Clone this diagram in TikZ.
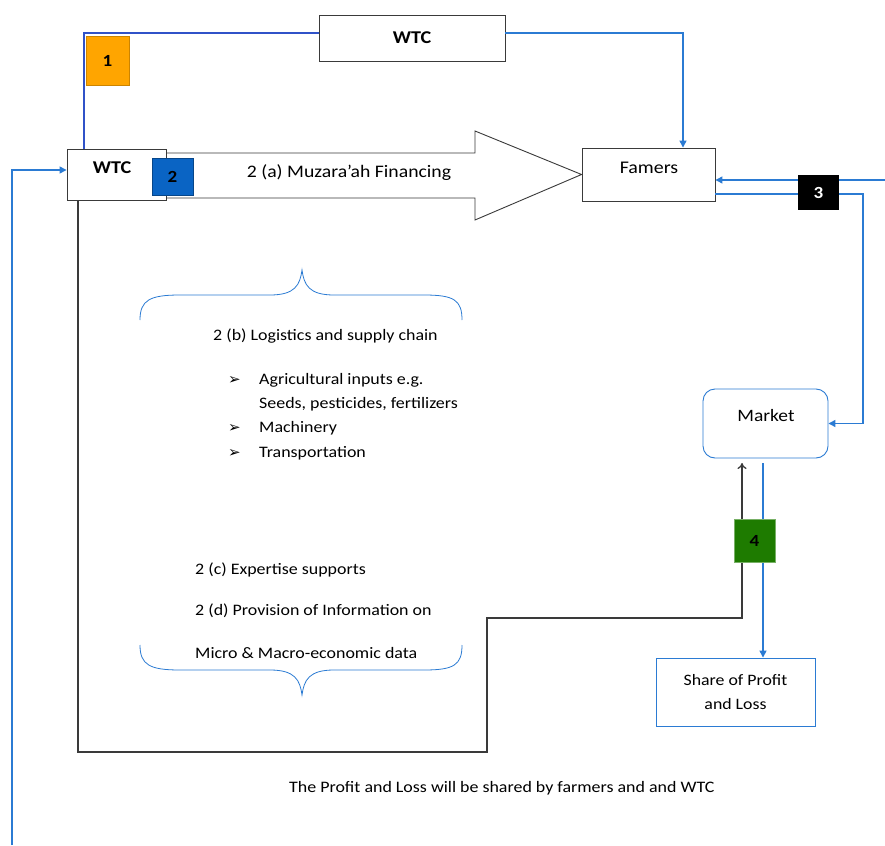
\documentclass[tikz,border=0pt]{standalone}
\usepackage{fontspec}
\setmainfont{Carlito}[FakeStretch=1.12]
\newfontfamily\symfont{DejaVu Sans}
\usetikzlibrary{arrows.meta,calc}
\definecolor{lineblue}{HTML}{2B7BD3}
\definecolor{darkblue}{HTML}{3052C8}
\definecolor{sqorange}{HTML}{FFA500}
\definecolor{sqblue}{HTML}{0A64C4}
\definecolor{sqgreen}{HTML}{1E7B00}
\definecolor{boxgray}{HTML}{3A3A3A}
\begin{document}
\begin{tikzpicture}[x=1pt,y=-1pt,
  plainbox/.style={draw=boxgray,line width=0.9pt,fill=white,inner sep=0pt},
  bluebox/.style={draw=lineblue,line width=0.9pt,fill=white,inner sep=0pt},
  sq/.style={inner sep=0pt,minimum width=42pt,minimum height=40pt,font=\bfseries\fontsize{17}{19}\selectfont},
  bl/.style={draw=lineblue,line width=1.3pt},
  blarrow/.style={draw=lineblue,line width=1.3pt,-{Triangle[length=7pt,width=7pt]}},
  txt/.style={inner sep=0pt,font=\fontsize{16}{18}\selectfont},
  bul/.style={inner sep=0pt,font=\symfont\bfseries\fontsize{15}{17}\selectfont},
  brace/.style={draw=lineblue,line width=0.8pt}]
\useasboundingbox (0,0) rectangle (885,845);
\fill[white] (0,0) rectangle (885,845);

% boxes
\node[plainbox,minimum width=186pt,minimum height=46pt,font=\bfseries\fontsize{18}{20}\selectfont] (wtct) at (412,38) {WTC};
\node[plainbox,minimum width=99pt,minimum height=51pt] (wtcb) at (116.5,174.5) {};
\node[txt,font=\bfseries\fontsize{18}{20}\selectfont] (wtcbt) at (112,168) {WTC};
\node[plainbox,minimum width=133pt,minimum height=53pt] (fam) at (648.5,174.5) {};
\node[txt,font=\fontsize{17.8}{20}\selectfont] (famt) at (649,168) {Famers};
\node[bluebox,rounded corners=12pt,minimum width=125pt,minimum height=69pt] (mkt) at (765.5,423.5) {};
\node[txt,font=\fontsize{17.4}{20}\selectfont] (mktt) at (766,416) {Market};
\node[bluebox,minimum width=159pt,minimum height=68pt,align=center,font=\fontsize{15.9}{24}\selectfont] (share) at (735.5,692) {Share of Profit\\and Loss};

% coordinates
\coordinate (c1a) at (84,33);
\coordinate (c1b) at (683,33);
\coordinate (lb) at (12,845);
\coordinate (r3) at (885,180);
\coordinate (r3b) at (863,194);
\coordinate (g1) at (78,752);
\coordinate (g2) at (487,752);
\coordinate (g3) at (487,618);
\coordinate (g4) at (742,618);

% connector 1
\draw[draw=darkblue,line width=1.3pt] (wtct.west |- 0,33) -- (c1a) -- (84,149);
% top WTC -> Famers
\draw[blarrow] (wtct.east |- 0,33) -- (c1b) -- (fam.north -| c1b);
% left line into lower WTC
\draw[blarrow] (lb) -- (12,170) -- (wtcb.west |- 0,170);
% line 3 into Famers
\draw[blarrow] (r3) -- (fam.east |- r3);
% Famers -> Market
\draw[blarrow] (fam.east |- r3b) -- (r3b) -- (r3b |- mkt.east) -- (mkt.east);
% Market -> Share
\draw[blarrow] (763,463) -- (share.north -| 763,0);
% WTC -> Market (black)
\draw[draw=boxgray,line width=1.3pt,-{To[length=6pt,width=9pt]}] (wtcb.south -| g1) -- (g1) -- (g2) -- (g3) -- (g4) -- (742,463);

% big arrow
\draw[draw=boxgray,line width=0.9pt,fill=white,line join=miter] (167,153) -- (475,153) -- (475,131) -- (fam.west) -- (475,220) -- (475,198) -- (167,198);
\node[txt,font=\fontsize{17.6}{20}\selectfont] (muz) at (349,173) {2 (a) Muzara’ah Financing};

% squares
\node[sq,fill=sqorange,draw=sqorange!80!black,line width=0.5pt,minimum width=43pt,minimum height=49pt] (s1) at (107.5,60.5) {1};
\node[sq,fill=sqblue,draw=sqblue!70!black,line width=0.5pt,minimum width=41pt,minimum height=37pt] (s2) at (172.5,177) {2};
\node[sq,fill=black,text=white,minimum width=41pt,minimum height=35pt] (s3) at (818.5,192.5) {3};
\node[sq,fill=sqgreen,draw=sqgreen!60!white,line width=0.5pt,minimum width=41pt,minimum height=43pt] (s4) at (754.5,540.5) {4};

% braces
\draw[brace] (140,320) .. controls (140,300) and (150,295) .. (180,295) -- (270,295) .. controls (295,295) and (300,285) .. (302,270)
  .. controls (304,285) and (309,295) .. (334,295) -- (424,295) .. controls (454,295) and (462,300) .. (462,320);
\draw[brace] (140,645) .. controls (140,665) and (150,670) .. (180,670) -- (270,670) .. controls (295,670) and (300,680) .. (302,695)
  .. controls (304,680) and (309,670) .. (334,670) -- (424,670) .. controls (454,670) and (462,665) .. (462,645);

% texts
\node[txt,anchor=west] (tb) at (213,336) {2 (b) Logistics and supply chain};
\node[bul,anchor=west] (b1) at (228,380) {➢};
\node[txt,anchor=west] (t1) at (259,380) {Agricultural inputs e.g.};
\node[txt,anchor=west] (t1b) at (259,404) {Seeds, pesticides, fertilizers};
\node[bul,anchor=west] (b2) at (228,428) {➢};
\node[txt,anchor=west] (t2) at (259,428) {Machinery};
\node[bul,anchor=west] (b3) at (228,453) {➢};
\node[txt,anchor=west] (t3) at (259,453) {Transportation};
\node[txt,anchor=west] (tc) at (195,570) {2 (c) Expertise supports};
\node[txt,anchor=west] (td) at (195,611) {2 (d) Provision of Information on};
\node[txt,anchor=west] (te) at (195,653) {Micro \& Macro-economic data};
\node[txt,anchor=west] (bottom) at (289,788) {The Profit and Loss will be shared by farmers and and WTC};
\end{tikzpicture}
\end{document}
